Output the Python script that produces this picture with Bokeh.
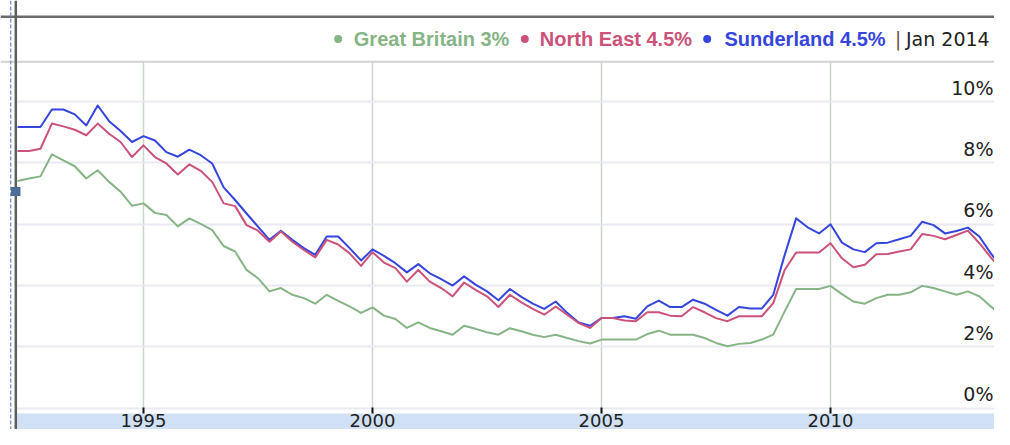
from bokeh.plotting import figure
from bokeh.models import (Range1d, LinearAxis, FixedTicker, Grid, BoxAnnotation,
                          Span, Label, ColumnDataSource)
from bokeh.embed import file_html
from bokeh.resources import INLINE

# ---------------- data (quarterly, Apr 1992 .. Jan 2014), claimant rate % ----------------
great_britain = [
    7.41, 7.49, 7.56,
    8.28, 8.08, 7.89, 7.49,
    7.76, 7.38, 7.06, 6.60,
    6.68, 6.37, 6.30, 5.93,
    6.19, 6.01, 5.81, 5.29,
    5.11, 4.51, 4.24, 3.81,
    3.92, 3.70, 3.59, 3.41,
    3.70, 3.50, 3.32, 3.11,
    3.29, 3.02, 2.91, 2.62,
    2.80, 2.62, 2.51, 2.40,
    2.69, 2.59, 2.48, 2.40,
    2.61, 2.51, 2.40, 2.32,
    2.40, 2.29, 2.19, 2.11,
    2.24, 2.24, 2.24, 2.24,
    2.42, 2.53, 2.40, 2.40,
    2.40, 2.29, 2.13, 2.02,
    2.10, 2.13, 2.24, 2.40,
    3.16, 3.89, 3.89, 3.89,
    3.99, 3.72, 3.48, 3.41,
    3.59, 3.70, 3.70, 3.78,
    3.99, 3.92, 3.81, 3.70,
    3.81, 3.65, 3.32, 3.00,
    3.00,
]
north_east = [
    8.39, 8.39, 8.46,
    9.28, 9.19, 9.08, 8.90,
    9.28, 8.95, 8.68, 8.19,
    8.57, 8.19, 7.98, 7.62,
    7.95, 7.74, 7.38, 6.68,
    6.59, 5.97, 5.79, 5.43,
    5.76, 5.43, 5.16, 4.92,
    5.49, 5.34, 5.05, 4.64,
    5.09, 4.75, 4.57, 4.13,
    4.51, 4.13, 3.92, 3.65,
    4.10, 3.86, 3.65, 3.30,
    3.70, 3.45, 3.24, 3.05,
    3.32, 3.05, 2.78, 2.62,
    2.94, 2.94, 2.86, 2.84,
    3.13, 3.13, 3.02, 3.00,
    3.30, 3.13, 2.94, 2.84,
    3.00, 3.00, 3.00, 3.43,
    4.51, 5.08, 5.08, 5.08,
    5.38, 4.89, 4.60, 4.68,
    5.02, 5.03, 5.11, 5.18,
    5.68, 5.62, 5.51, 5.65,
    5.79, 5.38, 4.92, 4.49,
    4.49,
]
sunderland = [
    9.17, 9.17, 9.17,
    9.74, 9.74, 9.58, 9.22,
    9.87, 9.36, 9.04, 8.68,
    8.87, 8.73, 8.35, 8.20,
    8.43, 8.25, 7.98, 7.20,
    6.79, 6.35, 5.92, 5.49,
    5.79, 5.49, 5.22, 5.00,
    5.60, 5.60, 5.22, 4.82,
    5.18, 4.97, 4.73, 4.43,
    4.70, 4.40, 4.21, 4.00,
    4.30, 4.03, 3.81, 3.52,
    3.89, 3.63, 3.41, 3.24,
    3.48, 3.11, 2.80, 2.69,
    2.94, 2.94, 3.00, 2.92,
    3.32, 3.51, 3.30, 3.30,
    3.54, 3.41, 3.21, 3.02,
    3.30, 3.25, 3.25, 3.70,
    5.00, 6.19, 5.90, 5.70,
    6.00, 5.40, 5.18, 5.09,
    5.38, 5.40, 5.51, 5.62,
    6.08, 5.97, 5.70, 5.78,
    5.89, 5.60, 5.05, 4.57,
    4.53,
]
quarters = [1992.25 + 0.25 * i for i in range(len(sunderland))]

series_names = ["Great Britain", "North East", "Sunderland"]
latest_values = ["3%", "4.5%", "4.5%"]
latest_period = "Jan 2014"
year_ticks = [1995, 2000, 2005, 2010]
year_labels = ["1995", "2000", "2005", "2010"]
pct_ticks = [0, 2, 4, 6, 8, 10]
pct_labels = ["0%", "2%", "4%", "6%", "8%", "10%"]

# ---------------- style / layout ----------------
colors = ["#86b486", "#cc5279", "#3545dd"]
W, H = 994, 429
PX_PER_YEAR = 45.8
PX_PER_PCT = 30.68
X_START = 1995 - 143 / PX_PER_YEAR
X_END = X_START + W / PX_PER_YEAR
Y_TOP = 407.8 / PX_PER_PCT
Y_BOTTOM = Y_TOP - H / PX_PER_PCT
LABEL_SHIFT = 14 / PX_PER_PCT


def xs(px):
    """canvas pixel -> x data"""
    return X_START + px / PX_PER_YEAR


def ys(py):
    """canvas pixel (from top) -> y data"""
    return Y_TOP - py / PX_PER_PCT


p = figure(width=W, height=H,
           x_range=Range1d(X_START, X_END), y_range=Range1d(Y_BOTTOM, Y_TOP),
           x_axis_location=None, y_axis_location=None,
           toolbar_location=None, output_backend="svg",
           min_border=0, outline_line_color=None,
           background_fill_color="white", border_fill_color="white")
p.min_border_left = p.min_border_right = p.min_border_top = p.min_border_bottom = 0
p.extra_y_ranges = {"lab": Range1d(Y_BOTTOM - LABEL_SHIFT, Y_TOP - LABEL_SHIFT)}

# grids
p.add_layout(Grid(dimension=0, ticker=FixedTicker(ticks=year_ticks),
                  grid_line_color="#c9d6c9", grid_line_width=1.5))
p.add_layout(Grid(dimension=1, ticker=FixedTicker(ticks=pct_ticks),
                  grid_line_color="#e9e9f4", grid_line_width=2))

# legend strip (white), left strip, bottom band (drawn over the grid lines)
BAND_TOP = 413
p.add_layout(BoxAnnotation(bottom=ys(61), fill_color="white", fill_alpha=1,
                           line_color=None, level="underlay"))
p.add_layout(BoxAnnotation(right=xs(15), fill_color="white", fill_alpha=1,
                           line_color=None, level="underlay"))
p.add_layout(BoxAnnotation(top=ys(BAND_TOP), left=xs(15), fill_color="#d0e1f5",
                           fill_alpha=1, line_color=None, level="underlay"))

# data lines
src = ColumnDataSource(dict(x=quarters, gb=great_britain, ne=north_east, sl=sunderland))
p.line("x", "gb", source=src, line_color=colors[0], line_width=2, line_join="round")
p.line("x", "sl", source=src, line_color=colors[2], line_width=2, line_join="round")
p.line("x", "ne", source=src, line_color=colors[1], line_width=2, line_join="round")

# x axis inside the band
xaxis = LinearAxis(ticker=FixedTicker(ticks=year_ticks),
                   major_label_overrides={t: l for t, l in zip(year_ticks, year_labels)},
                   fixed_location=ys(BAND_TOP),
                   axis_line_color=None, major_tick_in=6, major_tick_out=0,
                   minor_tick_line_color=None, major_tick_line_color="#111111",
                   major_tick_line_width=2, major_label_standoff=0,
                   major_label_text_font="DejaVu Sans", major_label_text_font_size="18px",
                   major_label_text_color="#222222")
p.add_layout(xaxis, "below")

# y labels on the right inside the plot, above grid lines
yaxis = LinearAxis(y_range_name="lab", ticker=FixedTicker(ticks=pct_ticks),
                   major_label_overrides={t: l for t, l in zip(pct_ticks, pct_labels)},
                   fixed_location=X_END,
                   axis_line_color=None, major_tick_line_color=None,
                   minor_tick_line_color=None, major_tick_in=0, major_tick_out=0,
                   major_label_standoff=1,
                   major_label_text_font="DejaVu Sans", major_label_text_font_size="19px",
                   major_label_text_color="#222222")
p.add_layout(yaxis, "left")

# frame decorations
p.add_layout(Span(location=ys(16.3), dimension="width", line_color="#6a6a6a", line_width=2.5))
p.add_layout(Span(location=ys(61.3), dimension="width", line_color="#d2d2d2", line_width=2))
p.add_layout(Span(location=xs(15.3), dimension="height", line_color="#5e5e5e", line_width=2.5))
p.add_layout(Span(location=xs(10.2), dimension="height", line_color="#7f9ccc",
                  line_width=1.5, line_dash="4 2"))
p.add_layout(BoxAnnotation(left=xs(10.5), right=xs(20), top=ys(186.5), bottom=ys(195.5),
                           fill_color="#4c6d99", fill_alpha=1, line_color=None))

# legend
LEG_MID = 38.5
dot_px = [337.7, 524.3, 706.7]
text_px = [353.3, 539.3, 724.0]
p.scatter(x=[xs(v) for v in dot_px], y=[ys(LEG_MID)] * 3, size=8, color=colors,
          marker="circle", line_color=None)
for name, val, col, tx in zip(series_names, latest_values, colors, text_px):
    p.add_layout(Label(x=xs(tx), y=ys(LEG_MID), text=f"{name} {val}", text_color=col,
                       text_font="Liberation Sans", text_font_size="20px",
                       text_font_style="bold", text_baseline="middle",
                       text_align="left"))
p.add_layout(Label(x=xs(897.7), y=ys(LEG_MID), text="|", text_color="#6b5a4e",
                   text_font="DejaVu Sans", text_font_size="20px",
                   text_baseline="middle", text_align="center"))
p.add_layout(Label(x=xs(905.5), y=ys(LEG_MID), text=latest_period, text_color="#222222",
                   text_font="DejaVu Sans", text_font_size="19px",
                   text_baseline="middle", text_align="left"))

open("out.html", "w").write(file_html(p, INLINE))
